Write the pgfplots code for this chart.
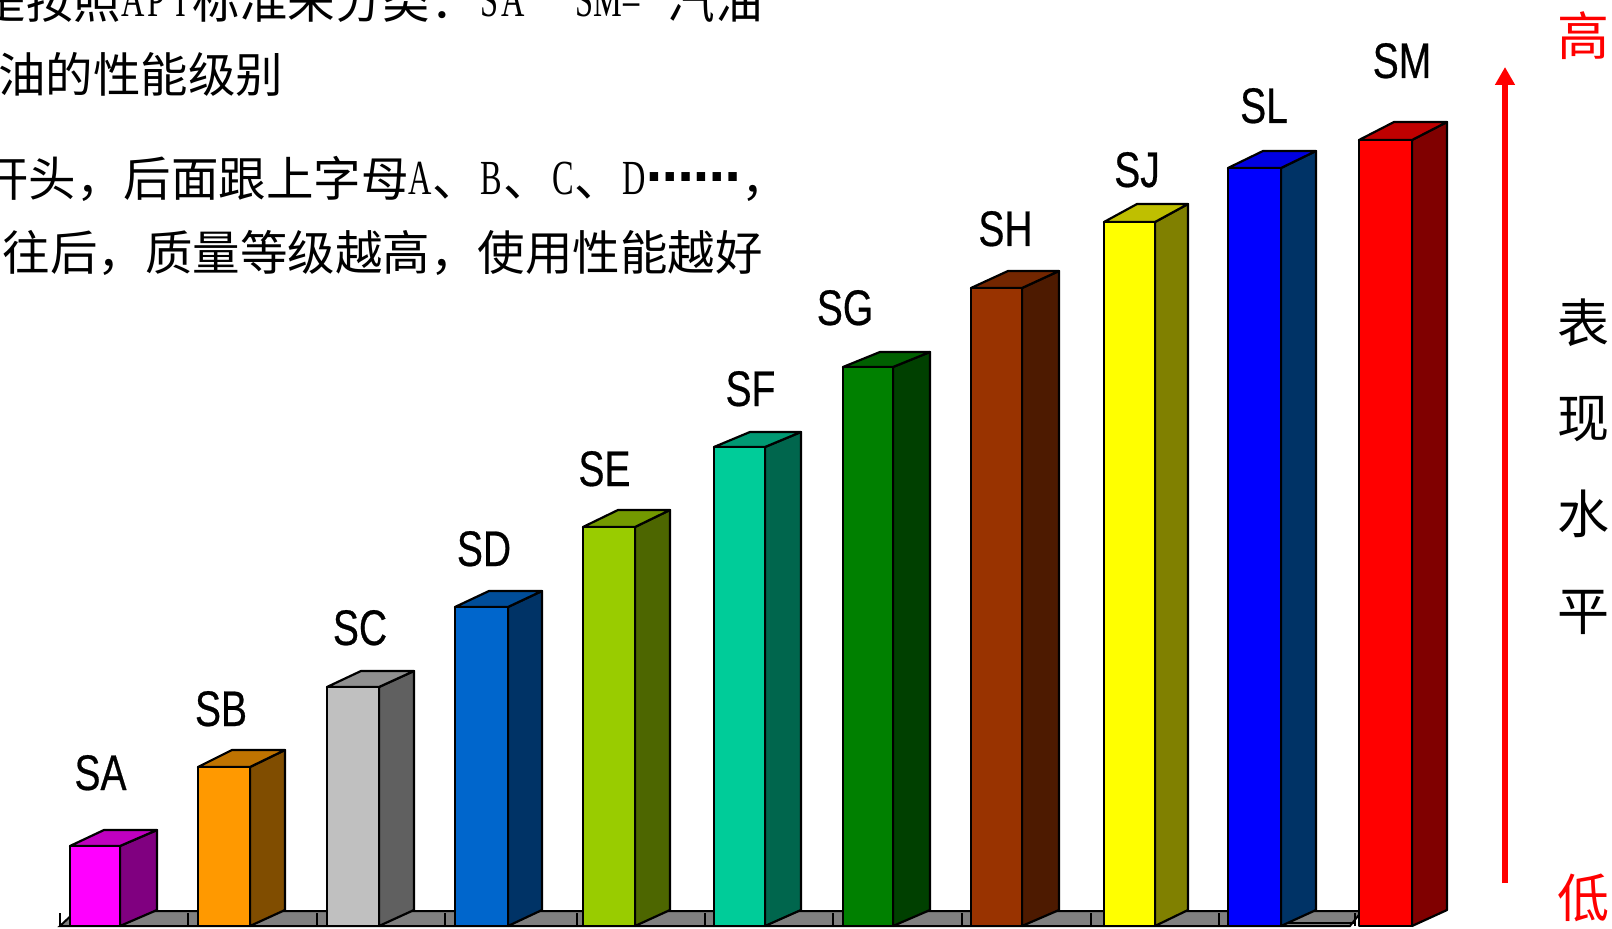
\documentclass[border=0pt]{standalone}
\usepackage{fontspec}
\usepackage{pgfplots}
\pgfplotsset{compat=1.18}
\usetikzlibrary{arrows.meta}
\newfontfamily\cjk{Noto Sans CJK SC}
\newfontfamily\lab[FakeStretch=0.78,FakeBold=0.5]{Liberation Sans}
\newfontfamily\ser[FakeStretch=0.66]{Liberation Serif}
\newfontfamily\dotfont{DejaVu Sans Bold}
\newcommand{\bodytext}{\fontsize{23.75pt}{28pt}\selectfont\cjk}
% one half-width Latin character: half of the 23.75pt body square
\newcommand{\hw}[1]{\makebox[11.875pt][c]{\raisebox{1pt}{\fontsize{24.5pt}{28pt}\selectfont\ser #1}}}
\definecolor{aF}{HTML}{FF00FF}\definecolor{aT}{HTML}{C000C0}\definecolor{aS}{HTML}{800080}
\definecolor{bF}{HTML}{FF9900}\definecolor{bT}{HTML}{BF7300}\definecolor{bS}{HTML}{804D00}
\definecolor{cF}{HTML}{C0C0C0}\definecolor{cT}{HTML}{909090}\definecolor{cS}{HTML}{606060}
\definecolor{dF}{HTML}{0066CC}\definecolor{dT}{HTML}{004D99}\definecolor{dS}{HTML}{003366}
\definecolor{eF}{HTML}{99CC00}\definecolor{eT}{HTML}{739900}\definecolor{eS}{HTML}{4D6600}
\definecolor{fF}{HTML}{00CC99}\definecolor{fT}{HTML}{009973}\definecolor{fS}{HTML}{00664D}
\definecolor{gF}{HTML}{008000}\definecolor{gT}{HTML}{006000}\definecolor{gS}{HTML}{004000}
\definecolor{hF}{HTML}{993300}\definecolor{hT}{HTML}{732600}\definecolor{hS}{HTML}{4D1A00}
\definecolor{jF}{HTML}{FFFF00}\definecolor{jT}{HTML}{BFBF00}\definecolor{jS}{HTML}{808000}
\definecolor{lF}{HTML}{0000FF}\definecolor{lT}{HTML}{0000E0}\definecolor{lS}{HTML}{003366}
\definecolor{mF}{HTML}{FF0000}\definecolor{mT}{HTML}{BF0000}\definecolor{mS}{HTML}{800000}
% x0, x1, xback, xright, front top, back top, colour prefix
\newcommand{\threedbar}[7]{%
  \addplot[draw=black,line width=1.1pt,line join=round,fill=#7S] coordinates {(#2,0) (#4,16) (#4,#6) (#2,#5)} -- cycle;
  \addplot[draw=black,line width=1.1pt,line join=round,fill=#7T] coordinates {(#1,#5) (#2,#5) (#4,#6) (#3,#6)} -- cycle;
  \addplot[draw=black,line width=1.1pt,line join=round,fill=#7F] coordinates {(#1,0) (#2,0) (#2,#5) (#1,#5)} -- cycle;
}
\begin{document}
\begin{tikzpicture}[x=1pt,y=1pt]
\path[use as bounding box] (0,0) rectangle (806,464);
\clip (0,0) rectangle (806,464);
\begin{axis}[
  at={(0,0)},anchor=south west,
  scale only axis,width=806pt,height=464pt,
  xmin=0,xmax=1612,ymin=-2,ymax=926,
  axis lines=none,clip=false,
]
% floor
\addplot[draw=black,line width=1pt,fill=gray] coordinates {(60,0) (76,15) (1362,15) (1350,0)} -- cycle;
\addplot[draw=black,line width=1pt] coordinates {(1281,3) (1355,3)};
\addplot[draw=black,line width=1pt] coordinates {(60,0) (60,13)};
\addplot[draw=black,line width=1pt] coordinates {(188,0) (188,13)};
\addplot[draw=black,line width=1pt] coordinates {(317,0) (317,13)};
\addplot[draw=black,line width=1pt] coordinates {(445,0) (445,13)};
\addplot[draw=black,line width=1pt] coordinates {(577,0) (577,13)};
\addplot[draw=black,line width=1pt] coordinates {(705,0) (705,13)};
\addplot[draw=black,line width=1pt] coordinates {(833,0) (833,13)};
\addplot[draw=black,line width=1pt] coordinates {(962,0) (962,13)};
\addplot[draw=black,line width=1pt] coordinates {(1091,0) (1091,13)};
\addplot[draw=black,line width=1pt] coordinates {(1219,0) (1219,13)};
\addplot[draw=black,line width=1pt] coordinates {(1355,0) (1355,13)};
% bars
\threedbar{70}{120}{104}{157}{80}{96}{a}
\threedbar{198}{250}{232}{285}{159}{176}{b}
\threedbar{327}{379}{361}{414}{239}{255}{c}
\threedbar{455}{508}{489}{542}{319}{335}{d}
\threedbar{583}{635}{618}{670}{399}{416}{e}
\threedbar{714}{765}{750}{801}{479}{494}{f}
\threedbar{843}{893}{880}{930}{559}{574}{g}
\threedbar{971}{1022}{1008}{1059}{638}{655}{h}
\threedbar{1104}{1155}{1137}{1188}{704}{722}{j}
\threedbar{1228}{1281}{1263}{1316}{758}{775}{l}
\threedbar{1359}{1412}{1394}{1447}{786}{804}{m}
% arrow
\addplot[draw=red,line width=3pt,-{Triangle[length=9pt,width=9.5pt]}] coordinates {(1505,43) (1505,859)};
% grade labels
\node[anchor=base,inner sep=0pt,font=\fontsize{25pt}{28pt}\selectfont\lab] at (axis cs:100.5,136) {SA};
\node[anchor=base,inner sep=0pt,font=\fontsize{25pt}{28pt}\selectfont\lab] at (axis cs:221,200) {SB};
\node[anchor=base,inner sep=0pt,font=\fontsize{25pt}{28pt}\selectfont\lab] at (axis cs:360,281) {SC};
\node[anchor=base,inner sep=0pt,font=\fontsize{25pt}{28pt}\selectfont\lab] at (axis cs:484,360) {SD};
\node[anchor=base,inner sep=0pt,font=\fontsize{25pt}{28pt}\selectfont\lab] at (axis cs:604.5,440) {SE};
\node[anchor=base,inner sep=0pt,font=\fontsize{25pt}{28pt}\selectfont\lab] at (axis cs:750.5,520) {SF};
\node[anchor=base,inner sep=0pt,font=\fontsize{25pt}{28pt}\selectfont\lab] at (axis cs:845,601) {SG};
\node[anchor=base,inner sep=0pt,font=\fontsize{25pt}{28pt}\selectfont\lab] at (axis cs:1005.5,680) {SH};
\node[anchor=base,inner sep=0pt,font=\fontsize{25pt}{28pt}\selectfont\lab] at (axis cs:1137,739) {SJ};
\node[anchor=base,inner sep=0pt,font=\fontsize{25pt}{28pt}\selectfont\lab] at (axis cs:1264,803) {SL};
\node[anchor=base,inner sep=0pt,font=\fontsize{25pt}{28pt}\selectfont\lab] at (axis cs:1402,848) {SM};
% right column
\node[anchor=base,inner sep=0pt,text=red,font=\fontsize{26pt}{28pt}\selectfont\cjk] at (axis cs:1583,870) {高};
\node[anchor=base,inner sep=0pt,font=\fontsize{26pt}{28pt}\selectfont\cjk] at (axis cs:1583,583) {表};
\node[anchor=base,inner sep=0pt,font=\fontsize{26pt}{28pt}\selectfont\cjk] at (axis cs:1583,488) {现};
\node[anchor=base,inner sep=0pt,font=\fontsize{26pt}{28pt}\selectfont\cjk] at (axis cs:1583,393) {水};
\node[anchor=base,inner sep=0pt,font=\fontsize{26pt}{28pt}\selectfont\cjk] at (axis cs:1583,296) {平};
\node[anchor=base,inner sep=0pt,text=red,font=\fontsize{26pt}{28pt}\selectfont\cjk] at (axis cs:1583,9) {低};
% body text
\node[anchor=base east,inner sep=0pt,font=\bodytext] at (axis cs:763,907.5) {是按照\hw{A}\hw{P}\hw{I}标准来分类：\hw{S}\hw{A}\hw{ }\hw{ }\hw{S}\hw{M}\hw{–}\hw{ }汽油};
\node[anchor=base west,inner sep=0pt,font=\bodytext] at (axis cs:-2,833) {油的性能级别};
\node[anchor=base east,inner sep=0pt,font=\bodytext] at (axis cs:789,729) {开头，后面跟上字母\hw{A}、\hw{B}、\hw{C}、\hw{D}\raisebox{7.75pt}{\dotfont ……}，};
\node[anchor=base east,inner sep=0pt,font=\bodytext] at (axis cs:763,655) {往后，质量等级越高，使用性能越好};
\end{axis}
\end{tikzpicture}
\end{document}
